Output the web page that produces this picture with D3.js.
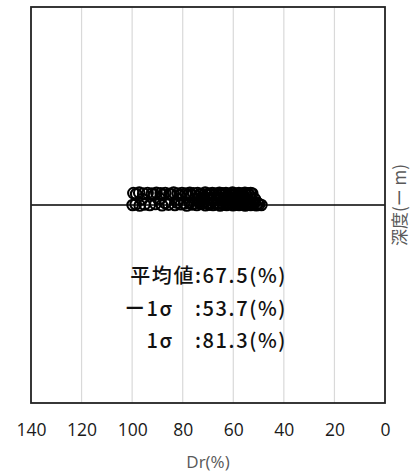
<!DOCTYPE html>
<html><head><meta charset="utf-8">
<script src="https://cdn.jsdelivr.net/npm/d3@7"></script>
<style>body{margin:0;background:#fff}</style>
</head><body>
<script>
// Data
const drTop = [99.5, 98.4, 97.2, 95.6, 93.9, 92.2, 90.4, 88.7, 86.9, 85.2, 83.6, 82.0, 80.3, 78.8, 77.2, 75.7, 74.1, 72.6, 71.1, 69.7, 68.3, 66.9, 65.5, 64.2, 62.9, 61.6, 60.3, 59.0, 57.8, 56.6, 55.4, 54.2, 53.1, 52.5];
const depthTop = [0.06, 0.055, 0.062, 0.058, 0.06, 0.057, 0.061, 0.059, 0.06, 0.056, 0.062, 0.058, 0.06, 0.057, 0.061, 0.059, 0.06, 0.056, 0.062, 0.058, 0.06, 0.057, 0.061, 0.059, 0.06, 0.056, 0.062, 0.058, 0.06, 0.057, 0.061, 0.059, 0.06, 0.058];
const drTop2 = [91.3, 87.8, 84.4, 81.1, 78.0, 76.5, 73.3, 71.8, 70.4, 69.0, 67.6, 66.2, 64.8, 63.5, 62.2, 60.9, 59.6, 58.4, 57.2, 56.0, 54.8, 53.6];
const depthTop2 = [0.052, 0.05, 0.053, 0.049, 0.051, 0.05, 0.052, 0.048, 0.05, 0.053, 0.049, 0.051, 0.05, 0.052, 0.048, 0.05, 0.053, 0.049, 0.051, 0.05, 0.052, 0.05];
const drBottom = [99.8, 98.6, 97.0, 95.1, 93.0, 90.8, 88.2, 85.6, 83.1, 80.7, 78.4, 76.3, 74.4, 72.7, 71.0, 69.5, 68.0, 66.6, 65.2, 63.9, 62.6, 61.3, 60.1, 58.9, 57.7, 56.5, 55.3, 54.2, 53.1, 52.0, 50.9, 49.8, 48.9];
const depthBottom = [0.0, 0.004, -0.002, 0.003, 0.0, 0.005, -0.001, 0.002, 0.0, 0.004, -0.002, 0.003, 0.0, 0.005, -0.001, 0.002, 0.0, 0.004, -0.002, 0.003, 0.0, 0.005, -0.001, 0.002, 0.0, 0.004, -0.002, 0.003, 0.0, 0.005, -0.001, 0.002, 0.0];
const drBottom2 = [86.9, 82.2, 79.5, 77.3, 75.3, 73.5, 71.8, 70.2, 68.7, 67.3, 65.9, 64.5, 63.2, 61.9, 60.7, 59.5, 58.3, 57.1, 55.9, 54.7, 53.6, 52.5, 51.4, 50.3];
const depthBottom2 = [0.01, 0.012, 0.008, 0.011, 0.009, 0.012, 0.01, 0.008, 0.011, 0.013, 0.009, 0.01, 0.012, 0.008, 0.011, 0.01, 0.009, 0.012, 0.01, 0.008, 0.011, 0.01, 0.012, 0.009];
const drMid = [96.0, 89.0, 81.5, 75.0, 70.2, 66.0, 62.0, 58.3, 54.8, 51.5, 64.0, 60.0, 56.0, 72.5, 68.5];
const depthMid = [0.03, 0.032, 0.028, 0.03, 0.031, 0.029, 0.03, 0.032, 0.028, 0.03, 0.025, 0.035, 0.027, 0.034, 0.026];
const xTicks = [140, 120, 100, 80, 60, 40, 20, 0];
const statLines = ["平均値:67.5(%)", "ー1σ\u3000:53.7(%)", "1σ\u3000:81.3(%)"];
const xLabel = "Dr(%)";
const yLabel = "深度(ー m)";

const W = 420, H = 476;
const m = {left: 31, right: 385, top: 7, bottom: 403};
const svg = d3.select("body").append("svg").attr("width", W).attr("height", H);

const x = d3.scaleLinear().domain([140, 0]).range([m.left, m.right]);
const y = d3.scaleLinear().domain([-1, 1]).range([m.bottom, m.top]);

// gridlines
svg.append("g").selectAll("line").data(xTicks.filter(d => d !== 140 && d !== 0)).join("line")
  .attr("x1", d => x(d)).attr("x2", d => x(d)).attr("y1", m.top).attr("y2", m.bottom)
  .attr("stroke", "#d9d9d9").attr("stroke-width", 1.2);

// zero line
svg.append("line").attr("x1", m.left).attr("x2", m.right).attr("y1", y(0)).attr("y2", y(0))
  .attr("stroke", "#000").attr("stroke-width", 1.3);

// points
const pts = [];
drTop.forEach((d, i) => pts.push([d, depthTop[i]]));
drTop2.forEach((d, i) => pts.push([d, depthTop2[i]]));
drMid.forEach((d, i) => pts.push([d, depthMid[i]]));
drBottom.forEach((d, i) => pts.push([d, depthBottom[i]]));
drBottom2.forEach((d, i) => pts.push([d, depthBottom2[i]]));
svg.append("g").selectAll("circle").data(pts).join("circle")
  .attr("cx", d => x(d[0])).attr("cy", d => y(d[1])).attr("r", 5.3)
  .attr("fill", "none").attr("stroke", "#000").attr("stroke-width", 2.1);

// frame
svg.append("rect").attr("x", m.left).attr("y", m.top).attr("width", m.right - m.left).attr("height", m.bottom - m.top)
  .attr("fill", "none").attr("stroke", "#222").attr("stroke-width", 1.8);

// x axis
const xAxis = d3.axisBottom(x).tickValues(xTicks).tickSize(0).tickPadding(0);
const gx = svg.append("g").attr("transform", `translate(0,${m.bottom})`).call(xAxis);
gx.select(".domain").remove();
gx.selectAll("text").attr("dy", null).attr("y", 33)
  .attr("font-family", "Open Sans, Calibri, sans-serif").attr("font-size", 17.5).attr("fill", "#1a1a1a");

svg.append("text").attr("x", x(70)).attr("y", 468).attr("text-anchor", "middle")
  .attr("font-family", "Open Sans, sans-serif").attr("font-size", 17).attr("fill", "#595959").text(xLabel);

svg.append("text").attr("transform", `translate(406,205) rotate(-90)`).attr("text-anchor", "middle")
  .attr("font-family", "Noto Sans CJK JP, sans-serif").attr("font-size", 17).attr("fill", "#595959").text(yLabel);

// stats text
const baselines = [283, 316, 348];
svg.append("g").selectAll("text").data(statLines).join("text")
  .attr("x", 287).attr("y", (d, i) => baselines[i]).attr("text-anchor", "end")
  .attr("font-family", "Noto Sans CJK JP, sans-serif").attr("font-size", 20).attr("font-weight", 500)
  .attr("letter-spacing", 1.6).attr("fill", "#111")
  .text(d => d);
</script>
</body></html>
